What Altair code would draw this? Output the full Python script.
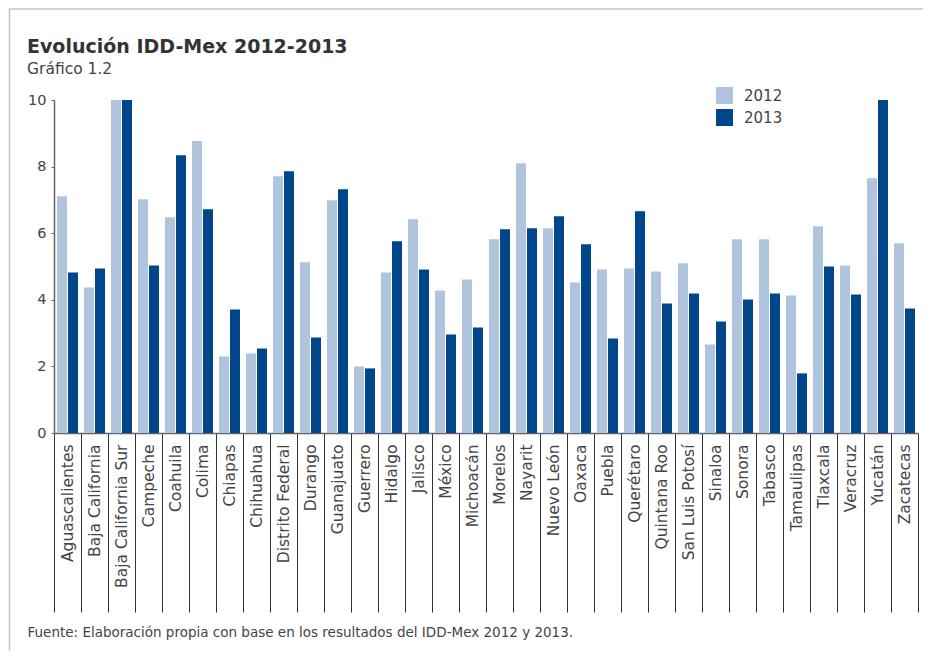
import altair as alt
import pandas as pd

states = ["Aguascalientes", "Baja California", "Baja California Sur", "Campeche", "Coahuila",
          "Colima", "Chiapas", "Chihuahua", "Distrito Federal", "Durango", "Guanajuato",
          "Guerrero", "Hidalgo", "Jalisco", "México", "Michoacán", "Morelos", "Nayarit",
          "Nuevo León", "Oaxaca", "Puebla", "Querétaro", "Quintana Roo", "San Luis Potosí",
          "Sinaloa", "Sonora", "Tabasco", "Tamaulipas", "Tlaxcala", "Veracruz", "Yucatán",
          "Zacatecas"]
v2012 = [7.11, 4.37, 10.0, 7.02, 6.48, 8.77, 2.30, 2.39, 7.71, 5.13, 6.99,
         2.00, 4.82, 6.42, 4.28, 4.61, 5.82, 8.10, 6.15, 4.52, 4.91, 4.94,
         4.85, 5.10, 2.66, 5.82, 5.82, 4.13, 6.21, 5.03, 7.65, 5.70]
v2013 = [4.82, 4.94, 10.0, 5.03, 8.34, 6.72, 3.71, 2.54, 7.86, 2.87, 7.32,
         1.94, 5.76, 4.91, 2.96, 3.17, 6.12, 6.15, 6.51, 5.67, 2.84, 6.66,
         3.89, 4.19, 3.35, 4.01, 4.19, 1.79, 5.00, 4.16, 10.0, 3.74]
years = ["2012", "2013"]
colors = ["#B0C4DE", "#00468A"]
y_ticks = [0, 2, 4, 6, 8, 10]

title_text = ["Evolución IDD-Mex 2012-2013"]
subtitle_text = ["Gráfico 1.2"]
source_text = "Fuente: Elaboración propia con base en los resultados del IDD-Mex 2012 y 2013."

rows = []
for s, a, b in zip(states, v2012, v2013):
    rows.append({"estado": s, "anio": years[0], "valor": a})
    rows.append({"estado": s, "anio": years[1], "valor": b})
df = pd.DataFrame(rows)

font = "DejaVu Sans"
one = pd.DataFrame({"f": [0]})

frame_top = alt.Chart(one).mark_rule(stroke="#C4C4C4", strokeWidth=1.5).encode(
    x=alt.value(-44.5), x2=alt.value(880), y=alt.value(-91)
)
frame_left = alt.Chart(one).mark_rule(stroke="#C4C4C4", strokeWidth=1.5).encode(
    x=alt.value(-44.5), y=alt.value(-91), y2=alt.value(560)
)

title = alt.Chart(pd.DataFrame({"t": title_text})).mark_text(
    font=font, fontSize=19, fontWeight="bold", color="#333",
    align="left", baseline="middle"
).encode(text="t:N", x=alt.value(-27), y=alt.value(-53))

subtitle = alt.Chart(pd.DataFrame({"t": subtitle_text})).mark_text(
    font=font, fontSize=15.5, color="#444", align="left", baseline="middle"
).encode(text="t:N", x=alt.value(-27), y=alt.value(-31))

bars = alt.Chart(df).mark_bar().encode(
    x=alt.X("estado:N", sort=states,
            scale=alt.Scale(paddingInner=0, paddingOuter=0),
            axis=alt.Axis(title=source_text, labelAngle=-90, tickBand="extent",
                          tickSize=179, tickColor="#333", tickWidth=1,
                          labelPadding=-168, labelFont=font, labelFontSize=15.5,
                          labelColor="#444", domainColor="#666", domainWidth=1.5,
                          titleFont=font, titleFontSize=13.5, titleFontWeight="normal",
                          titleColor="#444", titleAnchor="start", titleAlign="left",
                          titleBaseline="alphabetic", titleX=-27, titleY=203,
                          titleAngle=0)),
    xOffset=alt.XOffset("anio:N", sort=years,
                        scale=alt.Scale(paddingInner=0.0909, paddingOuter=0.273)),
    y=alt.Y("valor:Q", scale=alt.Scale(domain=[0, 10], nice=False),
            axis=alt.Axis(values=y_ticks, grid=False, title=None, tickSize=3,
                          tickColor="#666", domainColor="#666", domainWidth=1.5,
                          labelFont=font, labelFontSize=14.5, labelColor="#444",
                          labelPadding=5)),
    color=alt.Color("anio:N", sort=years,
                    scale=alt.Scale(domain=years, range=colors),
                    legend=alt.Legend(title=None, orient="none", legendX=662, legendY=-13,
                                      symbolType="square", symbolSize=289,
                                      symbolStrokeWidth=0, symbolOpacity=1,
                                      labelFont=font, labelFontSize=15,
                                      labelColor="#444", labelOffset=11,
                                      rowPadding=5, padding=0))
)

chart = alt.layer(frame_top, frame_left, title, subtitle, bars).properties(
    width=864,
    height=333,
    padding={"left": 46, "top": 92, "right": 5, "bottom": 218},
    autosize=alt.AutoSizeParams(type="none"),
).configure(background="white").configure_view(strokeOpacity=0, strokeWidth=0)

chart.save("out.html", embed_options={"renderer": "svg", "actions": False})
